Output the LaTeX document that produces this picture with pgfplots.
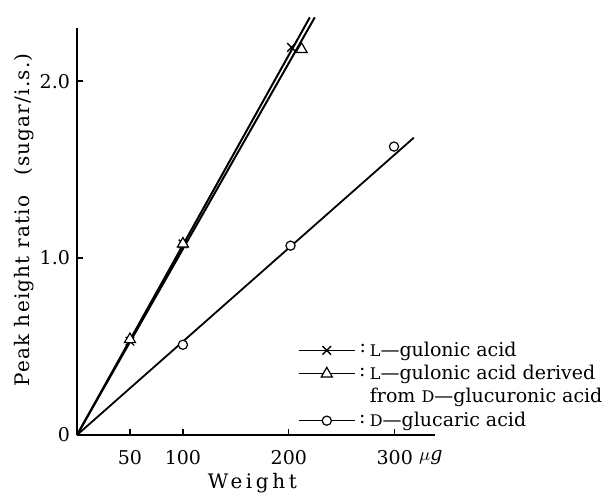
\documentclass[border=0pt]{standalone}
\usepackage{fontspec}
\setmainfont{DejaVu Serif}
\usepackage{pgfplots}
\pgfplotsset{compat=1.18}
\newcommand{\sL}{{\footnotesize L}}
\newcommand{\sD}{{\footnotesize D}}
\begin{document}
\begin{tikzpicture}[x=1pt,y=1pt]
\begin{axis}[
  scale only axis, width=179pt, height=203.5pt,
  xmin=0, xmax=338, ymin=0, ymax=2.30,
  axis x line*=bottom, axis y line*=left,
  axis line style={line width=0.8pt},
  tick align=inside, major tick length=3pt,
  tick style={black, line width=0.6pt},
  xtick={50,100,200,300},
  ytick={0,1,2}, yticklabels={0,1.0,2.0},
  extra x ticks={334}, extra x tick labels={$\mu$\textit{g}},
  extra x tick style={major tick length=0pt},
  /pgf/number format/assume math mode=true,
  tick label style={font=\fontsize{9.5}{11}\selectfont},
  xticklabel style={yshift=-4pt},
  label style={font=\fontsize{10}{12}\selectfont},
  xlabel={\addfontfeatures{LetterSpace=18}Weight},
  ylabel={\addfontfeatures{LetterSpace=6}Peak height ratio\quad(sugar/i.s.)},
  xlabel style={at={(axis description cs:0.49,-0.118)}, anchor=center},
  ylabel style={at={(axis description cs:-0.148,0.528)}, anchor=center},
  clip=false,
  legend style={at={(0.6,0.25)}, anchor=north west, draw=none, fill=none,
    font=\fontsize{9.5}{11}\selectfont, row sep=-1pt},
  legend cell align=left,
  legend image code/.code={
    \draw[black, line width=0.6pt] (0pt,0pt) -- (28pt,0pt);
    \draw[#1] plot coordinates {(14pt,0pt)};
    \node[anchor=west, inner sep=0pt] at (30pt,0pt) {:};
  },
]
\addplot[black, line width=1pt, forget plot] coordinates {(0,0) (219.8,2.36)};
\addplot[black, line width=1pt, forget plot] coordinates {(0,0) (224.5,2.36)};
\addplot[black, line width=0.9pt, forget plot] coordinates {(0,0) (318,1.68)};
\addplot[black, only marks, mark=x, mark size=3pt, line width=0.7pt]
  coordinates {(50,0.53) (100,1.08) (202.5,2.19)};
\addplot[black, only marks, mark=triangle*, mark size=3.2pt, mark options={fill=white, line width=0.6pt}]
  coordinates {(50,0.54) (100,1.08) (212,2.18)};
\addlegendimage{empty legend}
\addplot[black, only marks, mark=*, mark size=2.3pt, mark options={fill=white, line width=0.6pt}]
  coordinates {(100,0.51) (201.6,1.07) (299.3,1.63)};
\legend{\sL---gulonic acid, \sL---gulonic acid derived, from \sD---glucuronic acid, \sD---glucaric acid}
\end{axis}
\pgfresetboundingbox
\useasboundingbox (-38.5,-29) rectangle (266.5,217.5);
\end{tikzpicture}
\end{document}
